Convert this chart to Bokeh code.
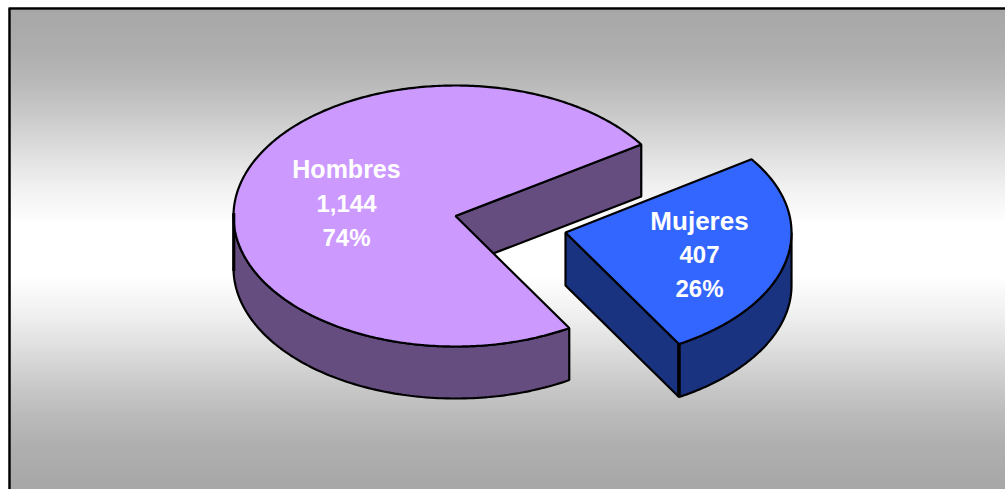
import numpy as np
from bokeh.plotting import figure
from bokeh.models import Range1d
from bokeh.core.properties import value
from bokeh.embed import file_html
from bokeh.resources import INLINE

categories = ["Hombres", "Mujeres"]
counts = [1144, 407]
band_top = [y for y in range(9, 490, 3)]

CX, CY, RX, RY, DEPTH = 455.0, 215.5, 222.0, 130.5, 52.0
MX, MY, MRX, MRY, M_DEPTH = 565.0, 232.0, 226.0, 129.0, 53.0
START, M_START = 33.2, 34.6
total = sum(counts)
sweep = 360.0 * counts[1] / total
END = START - sweep
M_END = M_START - sweep
WARP = 2.1


def arc(a0, a1, cx, cy, rx, ry, dy=0.0, n=120, warp=0.0):
    deg = np.linspace(a0, a1, n)
    t = np.radians(deg - warp * np.sin(np.radians(deg - START)))
    return list(cx + rx * np.cos(t)), list(cy + dy - ry * np.sin(t))


p = figure(width=1005, height=489, x_range=Range1d(0, 1005), y_range=Range1d(489, 0),
           output_backend="svg", toolbar_location=None, min_border=0,
           background_fill_color="white", border_fill_color="white", outline_line_color=None)
p.axis.visible = False
p.grid.visible = False


def grey(y):
    d = abs(y + 1.5 - 249.5)
    return int(round(np.interp(d, [0, 25, 60, 95, 130, 165, 200, 240],
                               [255, 255, 242, 224, 204, 186, 174, 167])))


cols = ["#%02x%02x%02x" % (grey(y), grey(y), grey(y)) for y in band_top]
p.quad(left=[10] * len(band_top), right=[1005] * len(band_top), top=band_top,
       bottom=[y + 5 for y in band_top], fill_color=cols, line_color=None)

p.line([9, 9], [489, 8], line_color="black", line_width=2.5)
p.line([8, 1005], [8, 8], line_color="black", line_width=2.5)

PURPLE, PURPLE_D, BLUE, BLUE_D = "#cc99ff", "#664d80", "#3366ff", "#1a3380"
LW = 2.2

# Hombres: inner wall, outer wall, top
ex, ey = arc(START, START, CX, CY, RX, RY, n=1, warp=WARP)
p.patch([CX, ex[0], ex[0], CX], [CY, ey[0], ey[0] + DEPTH, CY + DEPTH],
        fill_color=PURPLE_D, line_color="black", line_width=LW)
xs, ys = arc(180, 360 + END, CX, CY, RX, RY, warp=WARP)
xb, yb = arc(360 + END, 180, CX, CY, RX, RY, dy=DEPTH, warp=WARP)
p.patch(xs + xb, ys + yb, fill_color=PURPLE_D, line_color="black", line_width=LW)
xt, yt = arc(START, 360 + END, CX, CY, RX, RY, n=360, warp=WARP)
p.patch([CX] + xt, [CY] + yt, fill_color=PURPLE, line_color="black", line_width=LW)
p.line([CX - RX + 0.3, CX - RX + 0.3], [CY - 3, CY + DEPTH + 3], line_color="black", line_width=3)

# Mujeres: outer wall, cut wall, top
xs, ys = arc(M_END, 0, MX, MY, MRX, MRY)
xb, yb = arc(0, M_END, MX, MY, MRX, MRY, dy=M_DEPTH)
p.patch(xs + xb, ys + yb, fill_color=BLUE_D, line_color="black", line_width=LW)
ex, ey = arc(M_END, M_END, MX, MY, MRX, MRY, n=1)
p.patch([MX, ex[0], ex[0], MX], [MY, ey[0], ey[0] + M_DEPTH, MY + M_DEPTH],
        fill_color=BLUE_D, line_color="black", line_width=LW)
p.line([ex[0], ex[0]], [ey[0], ey[0] + M_DEPTH], line_color="black", line_width=3.5)
xt, yt = arc(M_START, M_END, MX, MY, MRX, MRY, n=160)
p.patch([MX] + xt, [MY] + yt, fill_color=BLUE, line_color="black", line_width=LW)

name_size = ["25px", "26px"]
label_x = [346, 699]
label_y = [[168.5, 202.5, 236.5], [220.5, 254, 287.5]]
for i, c in enumerate(categories):
    p.text(x=[label_x[i]], y=[label_y[i][0]], text=[c], text_color="white",
           text_font=value("Liberation Sans"), text_font_style="bold",
           text_font_size=name_size[i], text_align="center", text_baseline="middle")
    lines = [f"{counts[i]:,}", f"{round(100 * counts[i] / total)}%"]
    p.text(x=[label_x[i]] * 2, y=label_y[i][1:], text=lines, text_color="white",
           text_font=value("Liberation Sans"), text_font_style="bold",
           text_font_size="24px", text_align="center", text_baseline="middle")

open("out.html", "w").write(file_html(p, INLINE))
